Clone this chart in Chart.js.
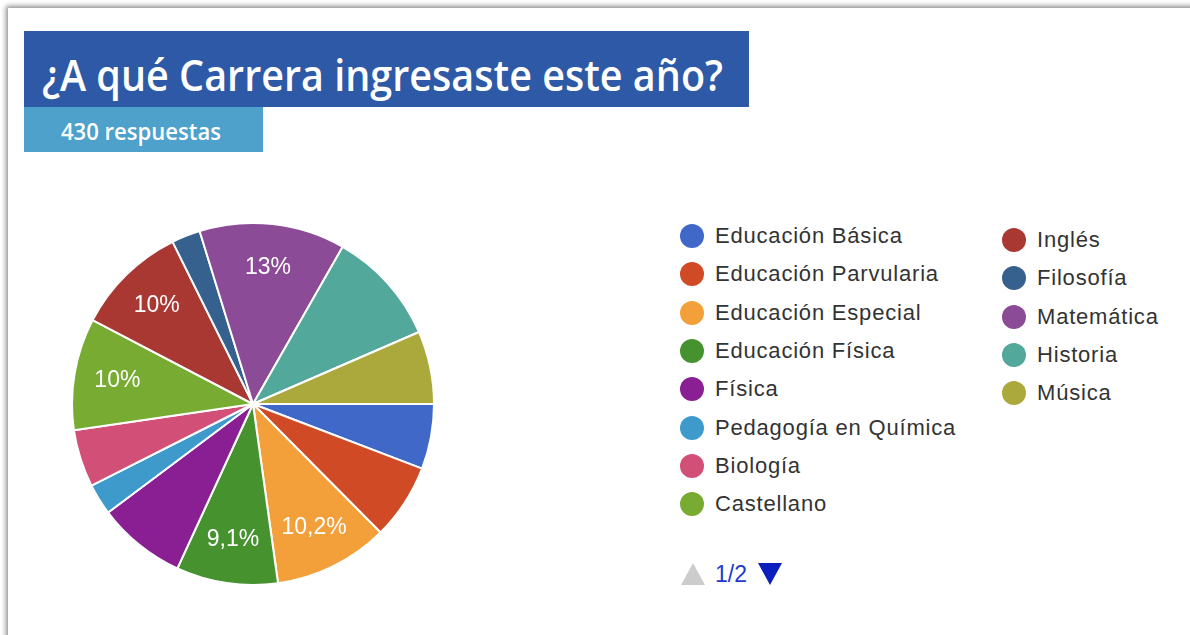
<!DOCTYPE html>
<html>
<head>
<meta charset="utf-8">
<script src="https://cdn.jsdelivr.net/npm/chart.js@4/dist/chart.umd.min.js"></script>
<style>
  html, body { margin:0; padding:0; background:#fff; width:1190px; height:635px; overflow:hidden; }
  #frame { position:absolute; left:8px; top:8px; width:1250px; height:700px; background:#fff;
           box-shadow: 0 0 5px 2px rgba(0,0,0,0.45); }
  #titleBox { position:absolute; left:24px; top:31px; width:725px; height:76px; background:#2E59A7; overflow:hidden; }
  #subBox { position:absolute; left:24px; top:107px; width:239px; height:45px; background:#4DA1CB; overflow:hidden; }
  .fit { position:absolute; white-space:nowrap; color:#fff; font-family:"Open Sans", sans-serif; font-weight:600; transform-origin:0 0; line-height:1; }
  #chartWrap { position:absolute; left:71px; top:222px; width:364px; height:364px; }
  .leg { position:absolute; font-family:"Liberation Sans", Arial, sans-serif; font-size:22px; letter-spacing:0.8px; color:#333; white-space:nowrap; line-height:24px; }
  .dot { position:absolute; width:24px; height:24px; border-radius:50%; }
  .tri { position:absolute; width:0; height:0; }
</style>
</head>
<body>
<div id="frame"></div>
<div id="titleBox"><span id="titleText" class="fit"></span></div>
<div id="subBox"><span id="subText" class="fit"></span></div>
<div id="chartWrap"><canvas id="c" width="364" height="364"></canvas></div>
<div id="legend"></div>
<script>
// ---- data ----
const titleLabel = "¿A qué Carrera ingresaste este año?";
const responsesLabel = "430 respuestas";
const categories = ["Educación Básica","Educación Parvularia","Educación Especial","Educación Física","Física","Pedagogía en Química","Biología","Castellano","Inglés","Filosofía","Matemática","Historia","Música"];
const values = [25, 29, 44, 39, 34, 12, 22, 43, 43, 11, 56, 44, 28];
const sliceLabels = ["", "", "10,2%", "9,1%", "", "", "", "10%", "10%", "", "13%", "", ""];
const colors = ["#3F68C9","#CF4A25","#F3A03A","#45922F","#8A1F93","#3E9ACB","#D24F78","#77AB32","#A93832","#36618F","#8C4B97","#52A89A","#ABA93C"];
const pageLabel = "1/2";

// ---- header texts fitted to measured widths ----
function fitText(el, text, size, left, baseline, width) {
  el.textContent = text;
  el.style.fontSize = size + "px";
  el.style.left = left + "px";
  el.style.top = (baseline - size * 0.80) + "px";
  const w = el.getBoundingClientRect().width;
  el.style.transform = "scaleX(" + (width / w) + ")";
}
fitText(document.getElementById("titleText"), titleLabel, 43, 18, 56, 681);
fitText(document.getElementById("subText"), responsesLabel, 24, 37, 31, 160);

// ---- legend ----
const legend = document.getElementById("legend");
function addItem(i, x, y) {
  const d = document.createElement("div");
  d.className = "dot"; d.style.background = colors[i];
  d.style.left = (x - 12) + "px"; d.style.top = (y - 12) + "px";
  legend.appendChild(d);
  const t = document.createElement("div");
  t.className = "leg"; t.textContent = categories[i];
  t.style.left = (x + 23) + "px"; t.style.top = (y - 12) + "px";
  legend.appendChild(t);
}
for (let i = 0; i < 8; i++) addItem(i, 692, 236 + i * 38.3);
for (let i = 8; i < categories.length; i++) addItem(i, 1014, 240 + (i - 8) * 38.3);
// pager
const up = document.createElement("div"); up.className = "tri";
up.style.left = "681px"; up.style.top = "563px";
up.style.borderLeft = "12px solid transparent"; up.style.borderRight = "12px solid transparent"; up.style.borderBottom = "22px solid #CCCCCC";
legend.appendChild(up);
const pg = document.createElement("div"); pg.className = "leg"; pg.textContent = pageLabel;
pg.style.left = "715px"; pg.style.top = "562px"; pg.style.color = "#1F3ACF"; pg.style.fontSize = "23px"; pg.style.letterSpacing = "0px";
legend.appendChild(pg);
const dn = document.createElement("div"); dn.className = "tri";
dn.style.left = "758px"; dn.style.top = "563px";
dn.style.borderLeft = "12px solid transparent"; dn.style.borderRight = "12px solid transparent"; dn.style.borderTop = "22px solid #0A1FBE";
legend.appendChild(dn);

// ---- pie ----
const sliceLabelPlugin = {
  id: "sliceLabels",
  afterDatasetsDraw(chart) {
    const ctx = chart.ctx;
    const meta = chart.getDatasetMeta(0);
    ctx.save();
    ctx.fillStyle = "#fff";
    ctx.font = "23px 'Liberation Sans', Arial, sans-serif";
    ctx.textAlign = "center";
    ctx.textBaseline = "middle";
    meta.data.forEach((arc, i) => {
      const txt = sliceLabels[i];
      if (!txt) return;
      const p = arc.getProps(["x","y","startAngle","endAngle","outerRadius"], true);
      const mid = (p.startAngle + p.endAngle) / 2;
      const r = p.outerRadius * 0.76;
      ctx.fillText(txt, p.x + Math.cos(mid) * r, p.y + Math.sin(mid) * r);
    });
    ctx.restore();
  }
};
new Chart(document.getElementById("c"), {
  type: "pie",
  data: { labels: categories, datasets: [{ data: values, backgroundColor: colors, borderColor: "#fff", borderWidth: 2 }] },
  options: {
    responsive: false, animation: false, rotation: 90,
    layout: { padding: 0 },
    plugins: { legend: { display: false }, tooltip: { enabled: false } }
  },
  plugins: [sliceLabelPlugin]
});
</script>
</body>
</html>
